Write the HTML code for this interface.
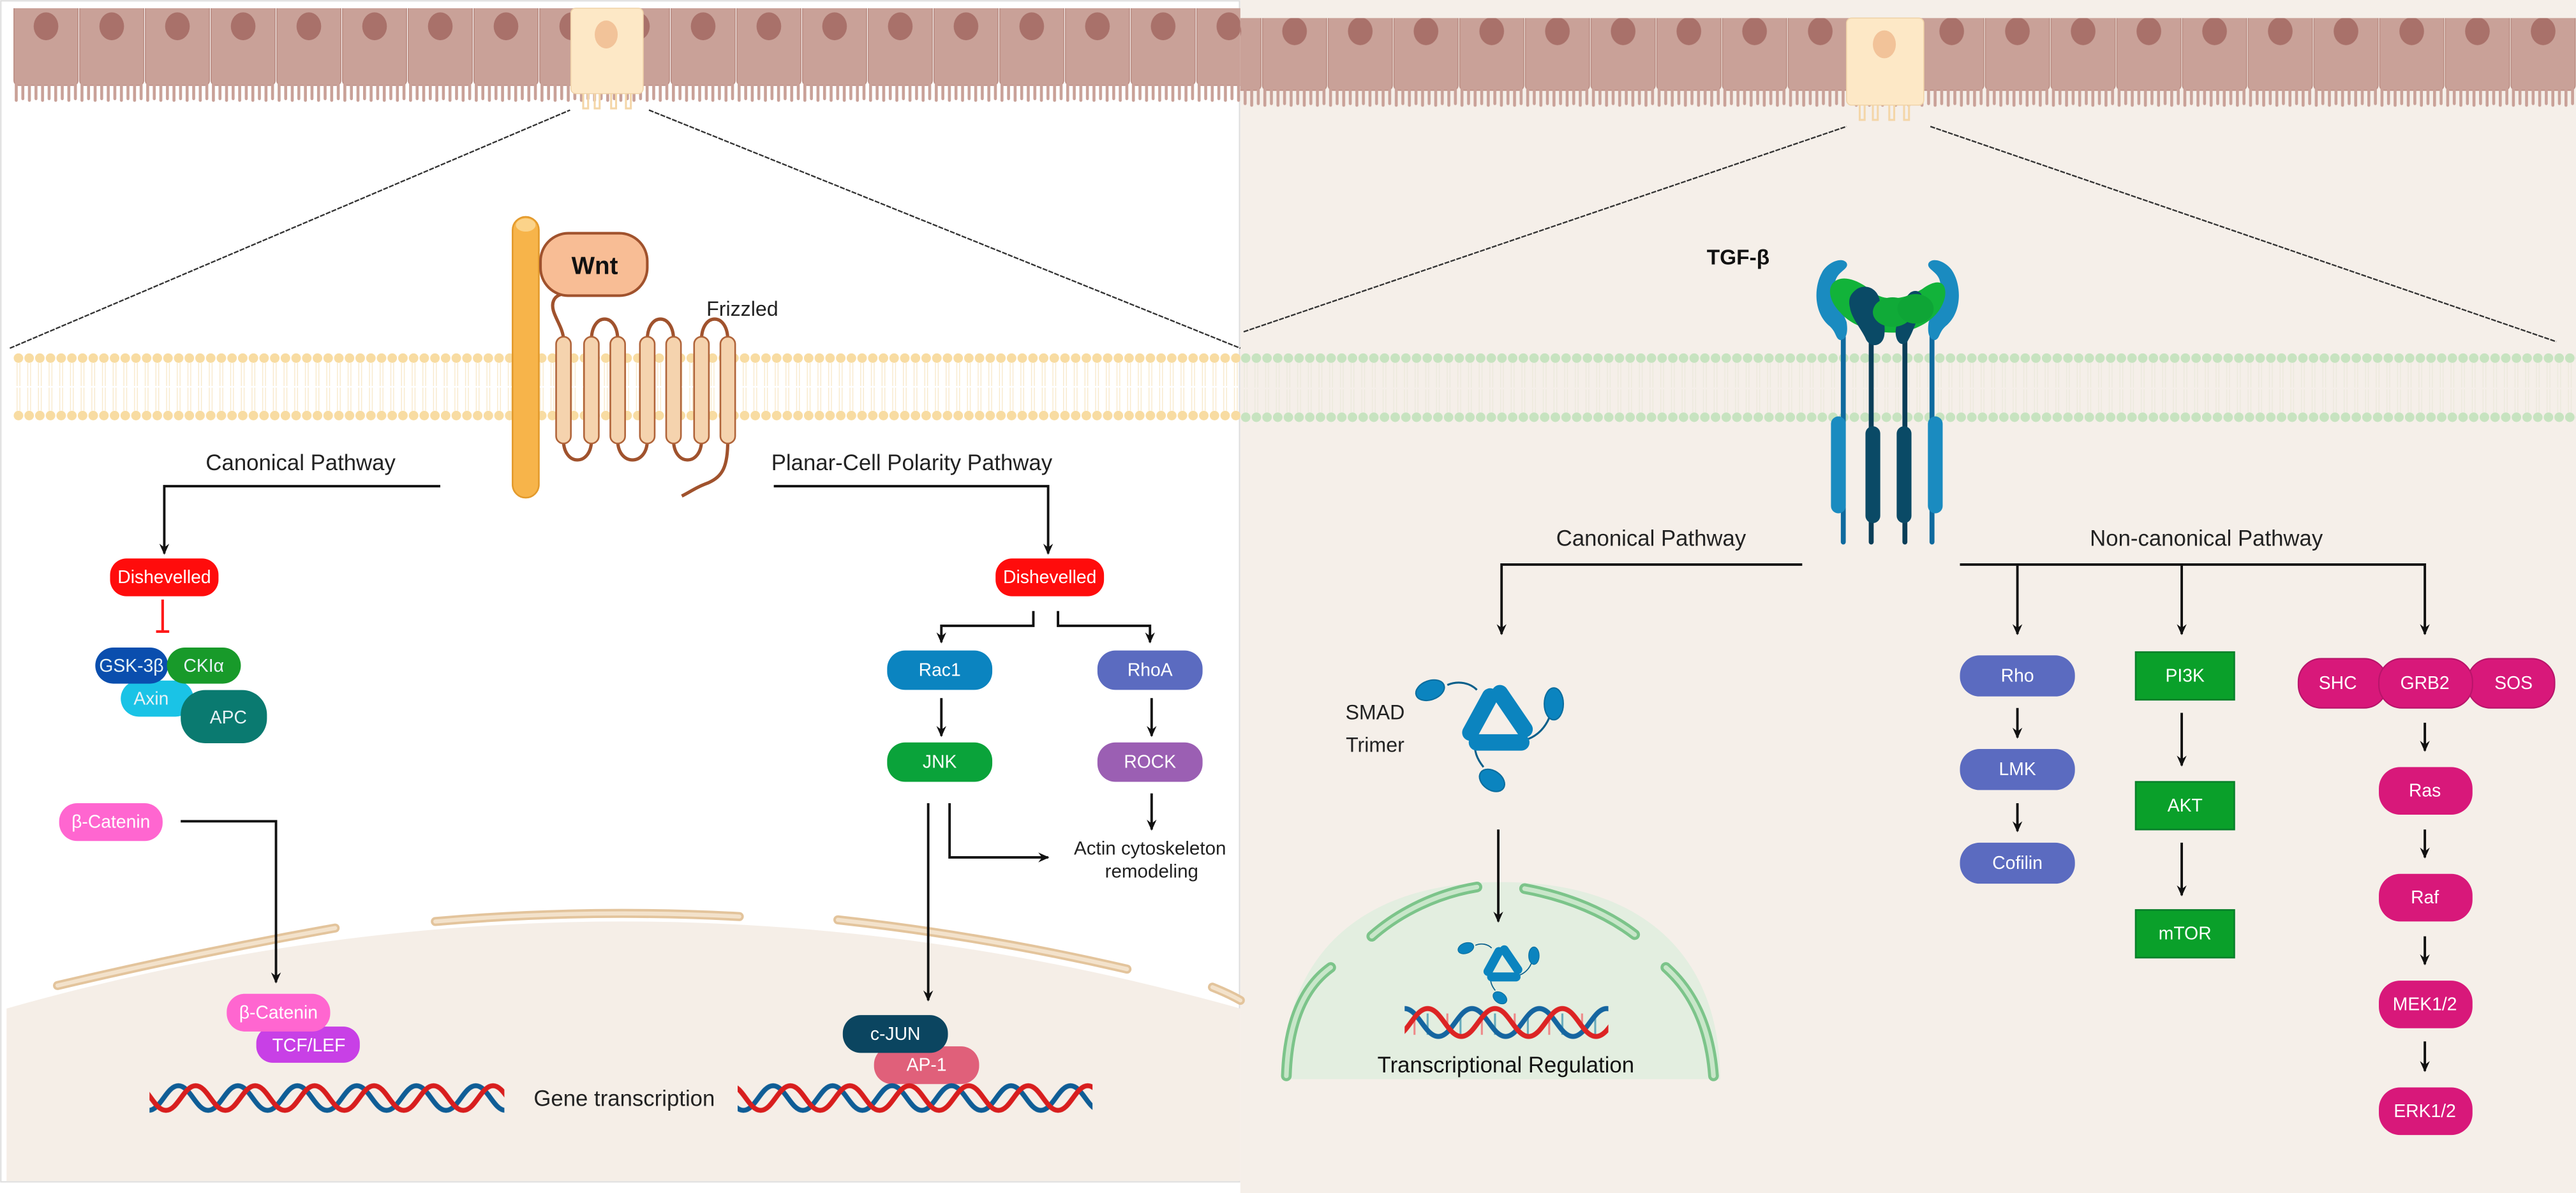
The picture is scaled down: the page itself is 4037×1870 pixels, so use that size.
<!DOCTYPE html>
<html><head><meta charset="utf-8">
<style>
html,body{margin:0;padding:0;background:#fff;}
svg{display:block;}
text{font-family:"Liberation Sans Narrow","Liberation Sans",sans-serif;}
</style></head>
<body>
<svg width="4037" height="1870" viewBox="0 0 1568 726.3" preserveAspectRatio="none" xmlns="http://www.w3.org/2000/svg">
<defs>
  <marker id="ar" viewBox="0 0 10 10" refX="8" refY="5" markerWidth="5" markerHeight="5" orient="auto-start-reverse">
    <path d="M0,1 L9,5 L0,9 L3,5 Z" fill="#111"/>
  </marker>
  <pattern id="cells" patternUnits="userSpaceOnUse" x="8" y="0" width="40" height="80">
    <rect x="0.5" y="0" width="39" height="52" rx="3" fill="#c9a198" stroke="#b98a80" stroke-width="0.6"/>
    <ellipse cx="20" cy="16" rx="7.5" ry="8.5" fill="#a9716a"/>
    <g fill="#c9a198">
      <rect x="1" y="50" width="1.8" height="12" rx="0.9"/><rect x="5" y="50" width="1.8" height="11" rx="0.9"/>
      <rect x="9" y="50" width="1.8" height="12" rx="0.9"/><rect x="13" y="50" width="1.8" height="11" rx="0.9"/>
      <rect x="17" y="50" width="1.8" height="12" rx="0.9"/><rect x="21" y="50" width="1.8" height="11" rx="0.9"/>
      <rect x="25" y="50" width="1.8" height="12" rx="0.9"/><rect x="29" y="50" width="1.8" height="11" rx="0.9"/>
      <rect x="33" y="50" width="1.8" height="12" rx="0.9"/><rect x="37" y="50" width="1.8" height="11" rx="0.9"/>
    </g>
  </pattern>
  <pattern id="memY" patternUnits="userSpaceOnUse" x="8" y="0" width="6.5" height="726.3">
    <circle cx="3.25" cy="218" r="2.9" fill="#f8dca2"/>
    <circle cx="3.25" cy="253" r="2.9" fill="#f8dca2"/>
    <line x1="2.4" y1="221" x2="2.4" y2="235" stroke="#f8e8c8" stroke-width="0.5"/>
    <line x1="4.1" y1="221" x2="4.1" y2="235" stroke="#f8e8c8" stroke-width="0.5"/>
    <line x1="2.4" y1="236" x2="2.4" y2="250" stroke="#f8e8c8" stroke-width="0.5"/>
    <line x1="4.1" y1="236" x2="4.1" y2="250" stroke="#f8e8c8" stroke-width="0.5"/>
  </pattern>
  <pattern id="memG" patternUnits="userSpaceOnUse" x="755" y="0" width="6.5" height="726.3">
    <circle cx="3.25" cy="218" r="2.9" fill="#c7e3c0"/>
    <circle cx="3.25" cy="254" r="2.9" fill="#c7e3c0"/>
    <line x1="2.4" y1="221" x2="2.4" y2="236" stroke="#ece9dc" stroke-width="0.5"/>
    <line x1="4.1" y1="221" x2="4.1" y2="236" stroke="#ece9dc" stroke-width="0.5"/>
    <line x1="2.4" y1="237" x2="2.4" y2="251" stroke="#ece9dc" stroke-width="0.5"/>
    <line x1="4.1" y1="237" x2="4.1" y2="251" stroke="#ece9dc" stroke-width="0.5"/>
  </pattern>
  <pattern id="dna" patternUnits="userSpaceOnUse" x="0" y="659" width="36.2" height="20">
    <path d="M-36.2,2 C-28.96,2 -25.34,17 -18.1,17 S-7.24,2 0,2 S10.86,17 18.1,17 S28.96,2 36.2,2 S47.06,17 54.3,17 S65.16,2 72.4,2" fill="none" stroke="#0f5d96" stroke-width="3"/>
    <path transform="translate(10.5,0)" d="M-36.2,2 C-28.96,2 -25.34,17 -18.1,17 S-7.24,2 0,2 S10.86,17 18.1,17 S28.96,2 36.2,2 S47.06,17 54.3,17 S65.16,2 72.4,2" fill="none" stroke="#d81e1e" stroke-width="3"/>
  </pattern>
  <pattern id="dna2" patternUnits="userSpaceOnUse" x="855" y="612" width="41" height="22">
    <g stroke-width="1.2">
      <line x1="6" y1="5" x2="6" y2="18" stroke="#e88"/><line x1="14" y1="5" x2="14" y2="18" stroke="#6ab"/>
      <line x1="26" y1="5" x2="26" y2="18" stroke="#e88"/><line x1="34" y1="5" x2="34" y2="18" stroke="#6ab"/>
    </g>
    <path d="M-41,2 C-32.8,2 -28.7,19 -20.5,19 S-8.2,2 0,2 S12.3,19 20.5,19 S32.8,2 41,2 S53.3,19 61.5,19 S73.8,2 82,2" fill="none" stroke="#1565a0" stroke-width="3"/>
    <path transform="translate(14,0)" d="M-41,2 C-32.8,2 -28.7,19 -20.5,19 S-8.2,2 0,2 S12.3,19 20.5,19 S32.8,2 41,2 S53.3,19 61.5,19 S73.8,2 82,2" fill="none" stroke="#dc2424" stroke-width="3"/>
  </pattern>
  <g id="smad">
    <g fill="none" stroke="#0a5f8a" stroke-width="1.2">
      <path d="M881,417 C888,414 895,416 899,420"/>
      <path d="M943,437 C940,444 935,448 930,450"/>
      <path d="M903,467 C899,462 897,457 898,451"/>
    </g>
    <g fill="#0b84bf" stroke="#0a6d9e" stroke-width="0.8">
      <ellipse cx="870.5" cy="420.2" rx="9" ry="5.8" transform="rotate(-20 870.5 420.2)"/>
      <ellipse cx="945.8" cy="428.5" rx="5.8" ry="9.7"/>
      <ellipse cx="908.2" cy="475.1" rx="8.4" ry="5.8" transform="rotate(35 908.2 475.1)"/>
    </g>
    <g stroke="#0b84bf" stroke-width="10" stroke-linecap="round">
      <line x1="895" y1="446" x2="907" y2="424"/>
      <line x1="913" y1="422" x2="928" y2="444"/>
      <line x1="899" y1="452" x2="926" y2="452"/>
    </g>
  </g>
</defs>

<!-- backgrounds -->
<rect x="0" y="0" width="1568" height="726.3" fill="#fff"/>
<rect x="755" y="0" width="813" height="726.3" fill="#f5efe9"/>
<rect x="0.5" y="0.5" width="754" height="719" fill="none" stroke="#ddd" stroke-width="0.8"/>

<!-- left nucleus -->
<path d="M4,614 Q378,508 755,614 L755,719 L4,719 Z" fill="#f5eee7"/>
<g fill="none" stroke-linecap="round">
  <g stroke="#e3c49c" stroke-width="5.5">
    <path d="M35,600 Q120,580 204,565"/>
    <path d="M265,561 Q357,553 450,558"/>
    <path d="M510,560 Q600,570 686,590"/>
    <path d="M738,601 Q748,605 755,609"/>
  </g>
  <g stroke="#f3e2cb" stroke-width="2.5">
    <path d="M35,600 Q120,580 204,565"/>
    <path d="M265,561 Q357,553 450,558"/>
    <path d="M510,560 Q600,570 686,590"/>
    <path d="M738,601 Q748,605 755,609"/>
  </g>
</g>

<!-- epithelium -->
<rect x="8" y="5" width="747" height="62" fill="url(#cells)"/>
<g>
  <rect x="347.5" y="5" width="44" height="52" rx="3" fill="#fde8c6" stroke="#f0d3a8" stroke-width="0.6"/>
  <ellipse cx="369" cy="21" rx="7" ry="8.5" fill="#f2c399"/>
  <g fill="none" stroke="#f4d6a8" stroke-width="1.2">
    <path d="M355,57 V66 H358 V57"/><path d="M362,57 V66 H365 V57"/><path d="M372,57 V66 H375 V57"/><path d="M381,57 V66 H384 V57"/>
  </g>
</g>
<rect x="755" y="8" width="813" height="66" fill="url(#cells)" transform="translate(0,3)"/>
<g>
  <rect x="1124" y="11" width="47" height="53" rx="3" fill="#fde8c6" stroke="#f0d3a8" stroke-width="0.6"/>
  <ellipse cx="1147" cy="27" rx="7" ry="8.5" fill="#f2c399"/>
  <g fill="none" stroke="#f4d6a8" stroke-width="1.2">
    <path d="M1132,64 V73 H1135 V64"/><path d="M1140,64 V73 H1143 V64"/><path d="M1150,64 V73 H1153 V64"/><path d="M1159,64 V73 H1162 V64"/>
  </g>
</g>

<!-- zoom lines -->
<g stroke="#333" stroke-width="0.9" stroke-dasharray="3,0.8">
  <line x1="6" y1="212" x2="347" y2="67"/>
  <line x1="395" y1="67" x2="755" y2="212"/>
  <line x1="757" y1="202" x2="1124" y2="77"/>
  <line x1="1175" y1="77" x2="1556" y2="208"/>
</g>

<!-- membranes -->
<rect x="8" y="212" width="747" height="47" fill="url(#memY)"/>
<rect x="755" y="212" width="813" height="48" fill="url(#memG)"/>

<!-- Wnt / LRP / Frizzled -->
<rect x="312" y="132" width="16" height="171" rx="8" fill="#f7b44a" stroke="#e39a2c" stroke-width="1"/>
<ellipse cx="320" cy="137" rx="6" ry="4" fill="#fbd38a"/>
<g fill="none" stroke="#a0522d" stroke-width="2">
  <path d="M343,207 C343,198 334,190 337,183 C339,178 347,178 352,179"/>
  <path d="M360,207 C360,190 376,190 376,207"/>
  <path d="M394,207 C394,190 410,190 410,207"/>
  <path d="M427,207 C427,190 443,190 443,207"/>
  <path d="M343,268 C343,284 360,284 360,268"/>
  <path d="M376,268 C376,284 394,284 394,268"/>
  <path d="M410,268 C410,284 427,284 427,268"/>
  <path d="M443,268 C443,284 440,290 431,294 C423,297 421,299 415,302"/>
</g>
<g fill="#f5d3ae" stroke="#b0643a" stroke-width="1">
  <rect x="338.5" y="205" width="9" height="65" rx="4.5"/>
  <rect x="355.5" y="205" width="9" height="65" rx="4.5"/>
  <rect x="371.5" y="205" width="9" height="65" rx="4.5"/>
  <rect x="389.5" y="205" width="9" height="65" rx="4.5"/>
  <rect x="405.5" y="205" width="9" height="65" rx="4.5"/>
  <rect x="422.5" y="205" width="9" height="65" rx="4.5"/>
  <rect x="438.5" y="205" width="9" height="65" rx="4.5"/>
</g>
<rect x="329" y="142" width="65" height="38" rx="17" fill="#f8bd95" stroke="#a0522d" stroke-width="1.6"/>
<text x="362" y="162" font-size="15" font-weight="bold" text-anchor="middle" dominant-baseline="central" fill="#111">Wnt</text>
<text x="430" y="188" font-size="12.5" fill="#222" dominant-baseline="central">Frizzled</text>

<!-- left pathways -->
<text x="183" y="282" font-size="13.5" text-anchor="middle" dominant-baseline="central" fill="#222">Canonical Pathway</text>
<text x="555" y="282" font-size="13.5" text-anchor="middle" dominant-baseline="central" fill="#222">Planar-Cell Polarity Pathway</text>
<g fill="none" stroke="#111" stroke-width="1.5">
  <path d="M268,296 H100 V337" marker-end="url(#ar)"/>
  <path d="M471,296 H638 V337" marker-end="url(#ar)"/>
</g>
<g font-size="11" text-anchor="middle" dominant-baseline="central" fill="#fff">
  <rect x="67" y="340" width="66" height="23" rx="10" fill="#ff0c0c"/><text x="100" y="351.5">Dishevelled</text>
  <rect x="606" y="340" width="66" height="23" rx="10" fill="#ff0c0c"/><text x="639" y="351.5">Dishevelled</text>
</g>
<g stroke="#ff1a1a" stroke-width="1.6"><line x1="99" y1="365" x2="99" y2="384"/><line x1="95" y1="384.5" x2="103" y2="384.5"/></g>

<!-- destruction complex -->
<g font-size="11" text-anchor="middle" dominant-baseline="central" fill="#e6f2f6">
  <rect x="73.5" y="414.3" width="44.3" height="22" rx="11" fill="#1ac3e6"/><text x="92" y="425.5">Axin</text>
  <rect x="58" y="394.2" width="44.3" height="22" rx="11" fill="#0a4eae"/><text x="80" y="405.5">GSK-3β</text>
  <rect x="101.6" y="394.2" width="45" height="22" rx="11" fill="#189a2a"/><text x="124" y="405.5">CKIα</text>
  <rect x="110" y="420.1" width="52.5" height="32.4" rx="15" fill="#0a7a70"/><text x="139" y="437">APC</text>
</g>

<!-- beta catenin -->
<g font-size="11" text-anchor="middle" dominant-baseline="central" fill="#fff">
  <rect x="36" y="489" width="63" height="23" rx="11" fill="#ff66d0"/><text x="67.5" y="500.5">β-Catenin</text>
</g>
<path d="M110,500 H168 V598" fill="none" stroke="#111" stroke-width="1.5" marker-end="url(#ar)"/>
<g font-size="11" text-anchor="middle" dominant-baseline="central" fill="#fff">
  <rect x="156" y="625" width="63" height="22" rx="10" fill="#c840e6"/><text x="188" y="636.5">TCF/LEF</text>
  <rect x="138" y="605" width="63" height="23" rx="11" fill="#ff66d0"/><text x="169.5" y="616.5">β-Catenin</text>
</g>

<!-- PCP branch -->
<g fill="none" stroke="#111" stroke-width="1.5">
  <path d="M629,372 V381 H573 V391" marker-end="url(#ar)"/>
  <path d="M644,372 V381 H700 V391" marker-end="url(#ar)"/>
  <path d="M573,425 V448" marker-end="url(#ar)"/>
  <path d="M701,425 V448" marker-end="url(#ar)"/>
  <path d="M701,483 V505" marker-end="url(#ar)"/>
  <path d="M565,489 V609" marker-end="url(#ar)"/>
  <path d="M578,489 V522 H638" marker-end="url(#ar)"/>
</g>
<g font-size="11" text-anchor="middle" dominant-baseline="central" fill="#fff">
  <rect x="540" y="396" width="64" height="24" rx="11" fill="#0b84c0"/><text x="572" y="408">Rac1</text>
  <rect x="668" y="396" width="64" height="24" rx="11" fill="#5b6bc0"/><text x="700" y="408">RhoA</text>
  <rect x="540" y="452" width="64" height="24" rx="11" fill="#0aa33a"/><text x="572" y="464">JNK</text>
  <rect x="668" y="452" width="64" height="24" rx="11" fill="#9b5fb3"/><text x="700" y="464">ROCK</text>
</g>
<g font-size="11.5" text-anchor="middle" dominant-baseline="central" fill="#222">
  <text x="700" y="516.5">Actin cytoskeleton</text>
  <text x="701" y="530.5">remodeling</text>
</g>
<g font-size="11" text-anchor="middle" dominant-baseline="central" fill="#fff">
  <rect x="532" y="637" width="64" height="23" rx="11" fill="#e0607a"/><text x="564" y="648.5">AP-1</text>
  <rect x="513" y="618" width="64" height="23" rx="11" fill="#0b4560"/><text x="545" y="629.5">c-JUN</text>
</g>

<!-- DNA left -->
<rect x="91" y="659" width="216" height="20" fill="url(#dna)"/>
<rect x="449" y="659" width="216" height="20" fill="url(#dna)"/>
<text x="380" y="669" font-size="13.5" text-anchor="middle" dominant-baseline="central" fill="#222">Gene transcription</text>

<!-- TGF-beta receptor -->
<text x="1058" y="157" font-size="13" font-weight="bold" text-anchor="middle" dominant-baseline="central" fill="#111">TGF-β</text>
<g>
  <g stroke-linecap="round">
    <line x1="1122" y1="205" x2="1122" y2="330" stroke="#0f6a9e" stroke-width="3"/>
    <line x1="1176" y1="205" x2="1176" y2="330" stroke="#0f6a9e" stroke-width="3"/>
    <line x1="1139" y1="205" x2="1139" y2="330" stroke="#0a3e58" stroke-width="3"/>
    <line x1="1159.5" y1="205" x2="1159.5" y2="330" stroke="#0a3e58" stroke-width="3"/>
    <line x1="1119" y1="258" x2="1119" y2="308" stroke="#1a8bc0" stroke-width="9"/>
    <line x1="1178" y1="258" x2="1178" y2="308" stroke="#1a8bc0" stroke-width="9"/>
    <line x1="1140" y1="264" x2="1140" y2="314" stroke="#0a4a66" stroke-width="9"/>
    <line x1="1159" y1="264" x2="1159" y2="314" stroke="#0a4a66" stroke-width="9"/>
  </g>
  <path d="M1109,166 C1104,175 1104,190 1113,198 C1118,202 1117,206 1120,207 C1124,207 1125,202 1124,196 C1121,188 1116,180 1117,172 C1118,165 1126,164 1124,160 C1121,156 1112,160 1109,166 Z" fill="#1a8bc0"/>
  <path d="M1189,166 C1194,175 1194,190 1185,198 C1180,202 1181,206 1178,207 C1174,207 1173,202 1174,196 C1177,188 1182,180 1181,172 C1180,165 1172,164 1174,160 C1177,156 1186,160 1189,166 Z" fill="#1a8bc0"/>
  <path d="M1116,172 C1122,166 1134,172 1140,178 C1148,184 1160,182 1170,176 C1178,170 1185,170 1184,180 C1182,192 1170,200 1158,202 C1146,204 1128,200 1120,190 C1114,184 1112,176 1116,172 Z" fill="#12b33a"/>
  <path d="M1128,178 C1133,172 1142,174 1144,182 C1145,190 1148,196 1147,204 C1146,211 1139,212 1136,207 C1133,200 1127,194 1126,187 C1125,183 1126,180 1128,178 Z" fill="#0a4a66"/>
  <path d="M1163,178 C1168,175 1172,180 1170,186 C1167,194 1165,201 1161,208 C1157,212 1153,207 1154,200 C1156,192 1158,182 1163,178 Z" fill="#0a4a66"/>
  <ellipse cx="1152" cy="190" rx="12" ry="9" fill="#10aa38"/>
  <ellipse cx="1166" cy="188" rx="11" ry="9" fill="#0ea536"/>
</g>

<!-- right nucleus -->
<path d="M781,657 C781,580 830,537 914,537 C998,537 1047,580 1047,657 Z" fill="#e3eee0"/>
<g fill="none" stroke-linecap="round">
  <g stroke="#7cc48a" stroke-width="6.5">
    <path d="M783,655 C784,625 792,602 810,589"/>
    <path d="M835,570 C852,555 875,544 899,540"/>
    <path d="M928,541 C955,546 978,556 995,569"/>
    <path d="M1014,589 C1032,605 1041,628 1043,655"/>
  </g>
  <g stroke="#c8e6c9" stroke-width="2.8">
    <path d="M783,655 C784,625 792,602 810,589"/>
    <path d="M835,570 C852,555 875,544 899,540"/>
    <path d="M928,541 C955,546 978,556 995,569"/>
    <path d="M1014,589 C1032,605 1041,628 1043,655"/>
  </g>
</g>
<g transform="translate(914,592) scale(0.55) translate(-910,-447)"><use href="#smad"/></g>
<rect x="855" y="612" width="124" height="22" fill="url(#dna2)"/>
<text x="916.6" y="648.6" font-size="13.5" text-anchor="middle" dominant-baseline="central" fill="#111">Transcriptional Regulation</text>

<!-- right pathways -->
<text x="1005" y="328" font-size="13.5" text-anchor="middle" dominant-baseline="central" fill="#222">Canonical Pathway</text>
<text x="1343" y="328" font-size="13.5" text-anchor="middle" dominant-baseline="central" fill="#222">Non-canonical Pathway</text>
<g fill="none" stroke="#111" stroke-width="1.5">
  <path d="M1097,343.7 H914 V386" marker-end="url(#ar)"/>
  <path d="M1193,343.7 H1476 V386" marker-end="url(#ar)"/>
  <path d="M1228,343.7 V386" marker-end="url(#ar)"/>
  <path d="M1328,343.7 V386" marker-end="url(#ar)"/>
  <path d="M1228,431 V449" marker-end="url(#ar)"/>
  <path d="M1228,489 V506" marker-end="url(#ar)"/>
  <path d="M1328,434 V466" marker-end="url(#ar)"/>
  <path d="M1328,513 V545" marker-end="url(#ar)"/>
  <path d="M1476,440 V457" marker-end="url(#ar)"/>
  <path d="M1476,505 V522" marker-end="url(#ar)"/>
  <path d="M1476,570 V587" marker-end="url(#ar)"/>
  <path d="M1476,634 V652" marker-end="url(#ar)"/>
  <path d="M912,505 V561" marker-end="url(#ar)"/>
</g>
<g font-size="12.5" text-anchor="middle" dominant-baseline="central" fill="#222">
  <text x="837" y="433.6">SMAD</text>
  <text x="837" y="453.4">Trimer</text>
</g>
<use href="#smad"/>

<!-- non-canonical nodes -->
<g font-size="11" text-anchor="middle" dominant-baseline="central" fill="#fff">
  <rect x="1193" y="399" width="70" height="25" rx="12" fill="#5b6bc0"/><text x="1228" y="411.5">Rho</text>
  <rect x="1193" y="456" width="70" height="25" rx="12" fill="#5b6bc0"/><text x="1228" y="468.5">LMK</text>
  <rect x="1193" y="513" width="70" height="25" rx="12" fill="#5b6bc0"/><text x="1228" y="525.5">Cofilin</text>
  <rect x="1300" y="397" width="60" height="29" fill="#0aa02a" stroke="#08802a" stroke-width="1"/><text x="1330" y="411.5">PI3K</text>
  <rect x="1300" y="476" width="60" height="29" fill="#0aa02a" stroke="#08802a" stroke-width="1"/><text x="1330" y="490.5">AKT</text>
  <rect x="1300" y="554" width="60" height="29" fill="#0aa02a" stroke="#08802a" stroke-width="1"/><text x="1330" y="568.5">mTOR</text>
  <rect x="1502" y="401" width="53" height="30" rx="14" fill="#d8187a" stroke="#b8146a" stroke-width="0.8"/><text x="1530" y="416">SOS</text>
  <rect x="1399" y="401" width="54" height="30" rx="14" fill="#d8187a" stroke="#b8146a" stroke-width="0.8"/><text x="1423" y="416">SHC</text>
  <rect x="1448" y="401" width="57" height="30" rx="14" fill="#d8187a" stroke="#b8146a" stroke-width="0.8"/><text x="1476" y="416">GRB2</text>
  <rect x="1448" y="467" width="57" height="29" rx="13" fill="#d8187a"/><text x="1476" y="481.5">Ras</text>
  <rect x="1448" y="532" width="57" height="29" rx="13" fill="#d8187a"/><text x="1476" y="546.5">Raf</text>
  <rect x="1448" y="597" width="57" height="29" rx="13" fill="#d8187a"/><text x="1476" y="611.5">MEK1/2</text>
  <rect x="1448" y="662" width="57" height="29" rx="13" fill="#d8187a"/><text x="1476" y="676.5">ERK1/2</text>
</g>
</svg>
</body></html>
